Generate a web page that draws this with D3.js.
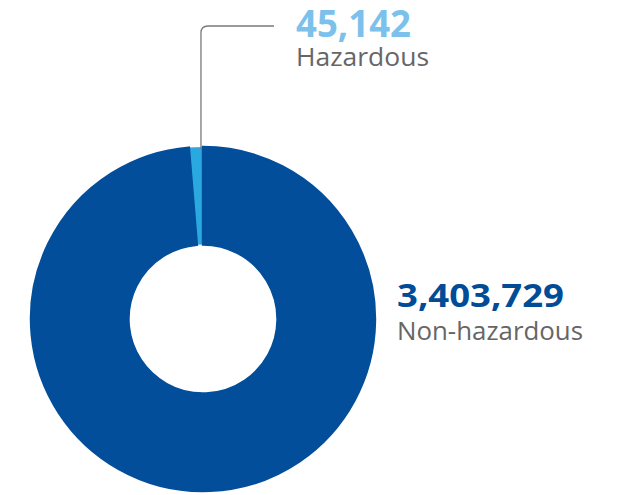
<!DOCTYPE html>
<html>
<head>
<meta charset="utf-8">
<script src="https://cdn.jsdelivr.net/npm/d3@7"></script>
<style>
  html, body { margin: 0; padding: 0; background: #ffffff; }
  svg { display: block; }
  text { font-family: "Open Sans", "Noto Sans", sans-serif; }
</style>
</head>
<body>
<svg id="chart" width="624" height="495"></svg>
<script>
// ---- data ----
const categories = ["Non-hazardous", "Hazardous"];
const values = [3403729, 45142];
const valueLabels = ["3,403,729", "45,142"];
const colors = ["#024E9B", "#2AA8E0"];
const labelColors = ["#014C97", "#7CC1EB"];

// ---- layout ----
const svg = d3.select("#chart");
const cx = 203, cy = 319;
const outerR = 172, innerR = 74.5;
const edge = 2.4; // same-colour outline on the large slice

const pie = d3.pie().sort(null).value(d => d.value);
const data = categories.map((c, i) => ({ name: c, value: values[i], color: colors[i] }));
const arcs = pie(data);

const arc = d3.arc().innerRadius(innerR).outerRadius(outerR);

const g = svg.append("g").attr("transform", `translate(${cx},${cy})`);

// draw small slice first, then large slice with outline on top
const order = [1, 0];
order.forEach(i => {
  const a = arcs[i];
  g.append("path")
    .attr("d", arc(a))
    .attr("fill", a.data.color)
    .attr("stroke", i === 0 ? a.data.color : "none")
    .attr("stroke-width", i === 0 ? edge : 0)
    .attr("stroke-linejoin", "miter");
});

// ---- leader line for Hazardous ----
const h = arcs[1];
const leadAngle = h.endAngle - 0.012;
const lx = cx + (outerR - 2) * Math.sin(leadAngle);
const ly = cy - (outerR - 2) * Math.cos(leadAngle);
const topY = 26, r = 7, endX = 274;
svg.append("path")
  .attr("d", `M${lx},${ly} L${lx},${topY + r} Q${lx},${topY} ${lx + r},${topY} L${endX},${topY}`)
  .attr("fill", "none")
  .attr("stroke", "#7a7a7a")
  .attr("stroke-width", 1.3);

// ---- labels ----
// Hazardous
svg.append("text")
  .attr("x", 296).attr("y", 37)
  .attr("font-size", 37).attr("font-weight", 700)
  .attr("fill", labelColors[1])
  .attr("textLength", 115).attr("lengthAdjust", "spacingAndGlyphs")
  .text(valueLabels[1]);
svg.append("text")
  .attr("x", 296).attr("y", 66)
  .attr("font-size", 25)
  .attr("fill", "#666666")
  .attr("textLength", 133).attr("lengthAdjust", "spacingAndGlyphs")
  .text(categories[1]);

// Non-hazardous
svg.append("text")
  .attr("x", 397).attr("y", 307)
  .attr("font-size", 32).attr("font-weight", 700)
  .attr("fill", labelColors[0])
  .attr("textLength", 167).attr("lengthAdjust", "spacingAndGlyphs")
  .text(valueLabels[0]);
svg.append("text")
  .attr("x", 397).attr("y", 340)
  .attr("font-size", 25)
  .attr("fill", "#666666")
  .attr("textLength", 186).attr("lengthAdjust", "spacingAndGlyphs")
  .text(categories[0]);
</script>
</body>
</html>
